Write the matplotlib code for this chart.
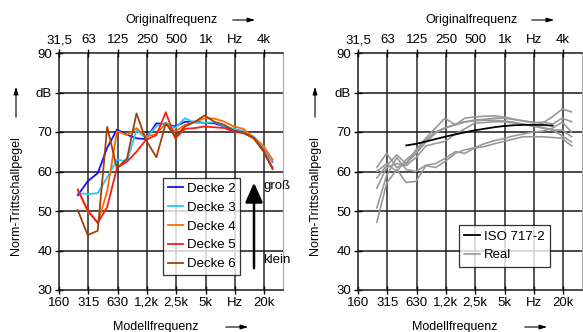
import numpy as np
import matplotlib
matplotlib.use("Agg")
import matplotlib.pyplot as plt

plt.rcParams['font.family'] = ['Liberation Sans', 'DejaVu Sans']
plt.rcParams['font.size'] = 9

# third-octave model frequencies (Hz)
freq = [250, 315, 400, 500, 630, 800, 1000, 1250, 1600, 2000, 2500, 3150,
        4000, 5000, 6300, 8000, 10000, 12500, 16000, 20000, 25000]

decke2 = [54.0, 57.5, 59.6, 66.0, 70.6, 69.3, 68.4, 68.2, 72.2, 72.0, 71.4,
          72.6, 72.6, 72.3, 72.2, 71.4, 70.5, 70.2, 68.7, 66.2, 62.4]
decke3 = [54.5, 54.3, 54.5, 58.5, 63.0, 62.6, 70.5, 68.4, 71.5, 72.3, 71.0,
          73.5, 72.3, 72.3, 72.5, 71.5, 70.8, 70.3, 68.8, 66.3, 62.5]
decke4 = [55.5, 50.0, 47.0, 55.0, 70.2, 69.2, 71.0, 68.8, 69.5, 72.2, 70.1,
          71.8, 72.6, 73.5, 73.4, 72.6, 71.4, 70.8, 68.6, 66.6, 63.0]
decke5 = [55.3, 50.2, 47.0, 51.0, 60.9, 62.5, 65.0, 68.0, 69.2, 75.0, 68.4,
          70.8, 71.0, 71.4, 71.2, 71.0, 70.1, 69.7, 68.5, 65.4, 61.0]
decke6 = [50.2, 43.9, 45.0, 71.3, 60.8, 63.3, 74.7, 68.0, 63.6, 72.2, 68.8,
          71.4, 72.6, 74.2, 72.6, 71.8, 70.3, 69.9, 68.4, 65.2, 60.6]

decken = [decke2, decke3, decke4, decke5, decke6]
decken_labels = ['Decke 2', 'Decke 3', 'Decke 4', 'Decke 5', 'Decke 6']
decken_colors = ['#1010ff', '#22ccff', '#ff6a00', '#ff1a1a', '#a0400a']

# ISO 717-2 reference (model frequencies 500 .. 16k)
iso_freq = [500, 630, 800, 1000, 1250, 1600, 2000, 2500, 3150, 4000, 5000,
            6300, 8000, 10000, 12500, 16000]
iso_val = [66.6, 67.0, 67.6, 68.2, 68.8, 69.4, 69.9, 70.4, 70.8, 71.2, 71.5,
           71.7, 71.8, 71.8, 71.8, 71.6]

real_a = [61.1, 64.6, 61.0, 62.0, 65.5, 68.5, 71.0, 73.5, 71.8, 73.5, 73.8,
          74.0, 74.1, 73.8, 73.3, 72.8, 72.5, 72.2, 73.9, 75.8, 75.1]
real_b = [58.4, 61.5, 64.2, 62.0, 64.5, 67.5, 69.7, 71.0, 71.8, 72.5, 73.0,
          73.2, 73.5, 73.5, 73.2, 72.8, 72.3, 72.5, 72.0, 73.5, 72.6]
real_c = [55.8, 61.0, 62.0, 61.5, 63.5, 66.5, 67.1, 67.6, 69.5, 70.8, 72.2,
          72.4, 72.6, 72.6, 72.3, 72.0, 71.5, 71.0, 70.5, 70.5, 68.8]
real_d = [50.8, 59.0, 63.5, 60.5, 60.0, 61.6, 62.0, 63.3, 65.0, 64.6, 65.9,
          66.3, 67.0, 67.6, 68.2, 68.8, 68.8, 68.8, 68.6, 68.4, 66.5]
real_e = [47.2, 57.0, 60.5, 57.2, 57.5, 61.5, 61.0, 62.5, 64.6, 65.5, 66.0,
          67.0, 67.8, 68.3, 69.0, 69.5, 70.0, 70.2, 71.0, 72.5, 70.0]
real_f = [60.0, 62.0, 60.0, 63.0, 65.0, 68.0, 70.0, 71.0, 72.0, 72.6, 72.8,
          73.0, 73.0, 72.8, 72.5, 72.0, 71.6, 71.2, 70.5, 69.0, 67.5]
reals = [real_a, real_b, real_c, real_d, real_e, real_f]

bottom_ticks = [160, 320, 640, 1280, 2560, 5120, 10240, 20480]
bottom_labels = ['160', '315', '630', '1,2k', '2,5k', '5k', 'Hz', '20k']
top_labels = ['31,5', '63', '125', '250', '500', '1k', 'Hz', '4k']
yticks = [30, 40, 50, 60, 70, 80, 90]
ylabels = ['30', '40', '50', '60', '70', 'dB', '90']

W, H = 583, 332
fig = plt.figure(figsize=(W / 100, H / 100), dpi=100)


def fx(px):
    return px / W


def fy(py):
    return 1 - py / H


def setup(left_px):
    ax = fig.add_axes([fx(left_px), fy(290), 224 / W, 237 / H])
    ax.set_xscale('log', base=2)
    ax.set_xlim(160, 32000)
    ax.set_ylim(30, 90)
    ax.set_xticks(bottom_ticks)
    ax.set_xticklabels(bottom_labels)
    ax.xaxis.set_minor_locator(matplotlib.ticker.NullLocator())
    ax.set_yticks(yticks)
    ax.set_yticklabels(ylabels)
    for x in bottom_ticks[1:]:
        ax.axvline(x, color='#555555', lw=1.4, zorder=1)
    for y in yticks[1:-1]:
        ax.axhline(y, color='#1a1a1a', lw=1.1, zorder=1)
    for s in ['left', 'bottom', 'top']:
        ax.spines[s].set_color('#1a1a1a')
        ax.spines[s].set_linewidth(1.1)
    ax.spines['right'].set_color('#aaaaaa')
    ax.tick_params(direction='inout', length=6, width=1, pad=2, labelsize=9.5)
    top = ax.twiny()
    top.set_xscale('log', base=2)
    top.set_xlim(160, 32000)
    top.set_xticks(bottom_ticks)
    top.set_xticklabels(top_labels)
    top.xaxis.set_minor_locator(matplotlib.ticker.NullLocator())
    top.tick_params(direction='inout', length=6, width=1, pad=2, labelsize=9.5)
    for s in top.spines.values():
        s.set_visible(False)

    arrow = dict(arrowstyle='-|>,head_width=0.15,head_length=0.5', lw=0.8, color='black')
    fig.text(fx(left_px + 113), fy(20), 'Originalfrequenz', ha='center', va='center', fontsize=9)
    ax.annotate('', xy=(fx(left_px + 199), fy(20)), xytext=(fx(left_px + 171), fy(20)),
                xycoords='figure fraction', arrowprops=arrow, annotation_clip=False)
    fig.text(fx(left_px + 97), fy(327), 'Modellfrequenz', ha='center', va='center', fontsize=9)
    ax.annotate('', xy=(fx(left_px + 192), fy(327)), xytext=(fx(left_px + 164), fy(327)),
                xycoords='figure fraction', arrowprops=arrow, annotation_clip=False)
    fig.text(fx(left_px - 43), fy(196), 'Norm-Trittschallpegel', rotation=90,
             ha='center', va='center', fontsize=9)
    ax.annotate('', xy=(fx(left_px - 43), fy(84)), xytext=(fx(left_px - 43), fy(120)),
                xycoords='figure fraction', arrowprops=arrow, annotation_clip=False)
    return ax


ax1 = setup(59)
for vals, lab, col in zip(decken, decken_labels, decken_colors):
    ax1.plot(freq, vals, color=col, lw=1.3, label=lab, zorder=3)
leg = ax1.legend(loc='upper left', bbox_to_anchor=((163 - 59) / 224, (290 - 178) / 237),
                 fontsize=9.5, frameon=True, fancybox=False, borderaxespad=0,
                 handlelength=1.2, handletextpad=0.25, labelspacing=0.5, borderpad=0.35)
leg.get_frame().set_edgecolor('black')
leg.get_frame().set_linewidth(0.9)
leg.set_zorder(5)
ax1.annotate('', xy=(fx(254), fy(180)), xytext=(fx(254), fy(271)),
             xycoords='figure fraction',
             arrowprops=dict(arrowstyle='-|>,head_width=0.45,head_length=1.0',
                             lw=1.8, color='black', mutation_scale=12),
             annotation_clip=False, zorder=6)
fig.text(fx(263), fy(186), 'groß', ha='left', va='center', fontsize=9.5)
fig.text(fx(263), fy(260), 'klein', ha='left', va='center', fontsize=9.5)

ax2 = setup(358)
for i, vals in enumerate(reals):
    ax2.plot(freq, vals, color='#999999', lw=1.2, zorder=2,
             label='Real' if i == 0 else None)
ax2.plot(iso_freq, iso_val, color='black', lw=1.3, zorder=3, label='ISO 717-2')
h, l = ax2.get_legend_handles_labels()
leg2 = ax2.legend([h[1], h[0]], [l[1], l[0]], loc='upper left',
                  bbox_to_anchor=((459 - 358) / 224, (290 - 225) / 237),
                  fontsize=9.5, frameon=True, fancybox=False, borderaxespad=0,
                  handlelength=1.2, handletextpad=0.3, labelspacing=0.5, borderpad=0.4)
leg2.get_frame().set_edgecolor('black')
leg2.get_frame().set_linewidth(0.9)

fig.savefig('out.png', dpi=100)
